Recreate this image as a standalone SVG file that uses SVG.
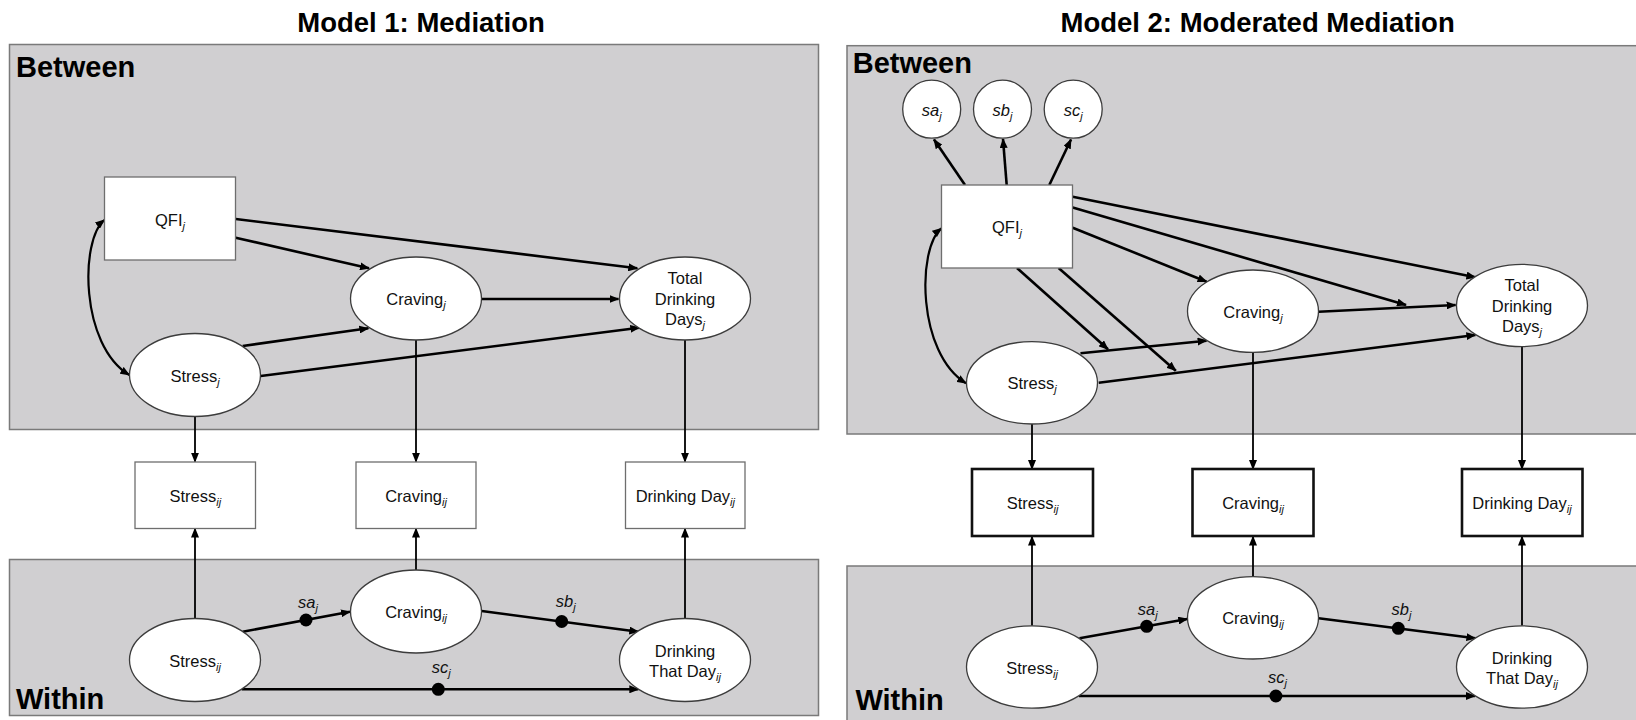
<svg xmlns="http://www.w3.org/2000/svg" width="1636" height="720" viewBox="0 0 1636 720">
<style>
.panel{fill:#d0cfd1;stroke:#7a7a7a;stroke-width:1.5}
.box{fill:#fff;stroke:#6e6e6e;stroke-width:1.3}
.box2{fill:#fff;stroke:#111;stroke-width:2.6}
.ell{fill:#fff;stroke:#3c3c3c;stroke-width:1.3}
.t{font-family:"Liberation Sans",Arial,sans-serif;font-size:16.5px;fill:#111;text-anchor:middle}
.sub{font-size:11px;font-style:italic}
.it{font-style:italic}
.lab{font-family:"Liberation Sans",Arial,sans-serif;font-size:16.5px;fill:#111;font-style:italic}
.hdr{font-family:"Liberation Sans",Arial,sans-serif;font-weight:bold;font-size:29px;fill:#000}
.title{font-family:"Liberation Sans",Arial,sans-serif;font-weight:bold;font-size:27.5px;fill:#000;text-anchor:middle}
.a{stroke:#000;stroke-width:2.6;fill:none;marker-end:url(#ah)}
.v{stroke:#000;stroke-width:1.8;fill:none;marker-end:url(#ah)}
.d{stroke:#000;stroke-width:2.2;fill:none;marker-start:url(#ah);marker-end:url(#ah)}
.dot{fill:#000}
</style>
<defs>
<marker id="ah" markerUnits="userSpaceOnUse" markerWidth="10" markerHeight="8" refX="9" refY="4" orient="auto-start-reverse">
<path d="M0,0 L10,4 L0,8 z" fill="#000"/>
</marker>
</defs>

<text class="title" x="421" y="31.7">Model 1: Mediation</text>
<text class="title" x="1257.6" y="31.7">Model 2: Moderated Mediation</text>

<!-- Model 1 panels -->
<g id="m1-between">
<rect class="panel" x="9.5" y="44.5" width="809" height="385"/>
<text class="hdr" x="16" y="77">Between</text>
</g>
<g id="m1-within">
<rect class="panel" x="9.5" y="559.5" width="809" height="156"/>
<text class="hdr" x="16" y="709">Within</text>
</g>

<!-- Model 2 panels -->
<g id="m2-between">
<rect class="panel" x="847" y="45.7" width="800" height="388.3"/>
<text class="hdr" x="852.7" y="73.3">Between</text>
</g>
<g id="m2-within">
<rect class="panel" x="847" y="566" width="800" height="170"/>
<text class="hdr" x="855.4" y="710">Within</text>
</g>

<g id="connectors">
<!-- Model 1 -->
<line class="a" x1="235.7" y1="219" x2="637.3" y2="268.3"/>
<line class="a" x1="235.7" y1="237.7" x2="369" y2="268.3"/>
<line class="a" x1="481.7" y1="299" x2="618.5" y2="299"/>
<line class="a" x1="242.7" y1="346" x2="368.3" y2="328.3"/>
<line class="a" x1="260.7" y1="376" x2="639.3" y2="327.7"/>
<path class="d" d="M104.3,220 C80,240 80,345 129.3,375"/>
<line class="v" x1="195" y1="416.5" x2="195" y2="461.7"/>
<line class="v" x1="416" y1="340" x2="416" y2="461.7"/>
<line class="v" x1="685" y1="340" x2="685" y2="461.7"/>
<line class="v" x1="195" y1="618.3" x2="195" y2="528.5"/>
<line class="v" x1="416" y1="570" x2="416" y2="528.5"/>
<line class="v" x1="685" y1="618.3" x2="685" y2="528.5"/>
<line class="a" x1="242.7" y1="631.7" x2="350" y2="611.7"/>
<line class="a" x1="481.7" y1="611" x2="638.3" y2="631.7"/>
<line class="a" x1="241.7" y1="689.3" x2="638.3" y2="689.3"/>
<circle class="dot" cx="306" cy="620" r="6.5"/>
<circle class="dot" cx="561.7" cy="621.5" r="6.5"/>
<circle class="dot" cx="438.3" cy="689.3" r="6.5"/>
<text class="lab" x="298" y="608.3">sa<tspan class="sub" dy="4">j</tspan></text>
<text class="lab" x="555.7" y="606.7">sb<tspan class="sub" dy="4">j</tspan></text>
<text class="lab" x="431.7" y="673.3">sc<tspan class="sub" dy="4">j</tspan></text>

<!-- Model 2 -->
<line class="a" x1="965" y1="185" x2="934" y2="139.5"/>
<line class="a" x1="1006.7" y1="185" x2="1003" y2="139"/>
<line class="a" x1="1049.3" y1="185" x2="1071" y2="139.5"/>
<line class="a" x1="1072.7" y1="196.7" x2="1475.4" y2="277.3"/>
<line class="a" x1="1072.7" y1="207.5" x2="1406" y2="305"/>
<line class="a" x1="1072.7" y1="227.7" x2="1206.6" y2="281.7"/>
<line class="a" x1="1318.6" y1="311.7" x2="1455.6" y2="305"/>
<line class="a" x1="1080.5" y1="353.3" x2="1206.6" y2="340.7"/>
<line class="a" x1="1098.7" y1="382.7" x2="1475.4" y2="335"/>
<line class="a" x1="1017" y1="268" x2="1108" y2="349.3"/>
<line class="a" x1="1058.6" y1="268" x2="1175.8" y2="370.7"/>
<path class="d" d="M941.4,228.3 C917,248 917,353 966,383.3"/>
<line class="v" x1="1032" y1="424" x2="1032" y2="469"/>
<line class="v" x1="1253" y1="352.4" x2="1253" y2="469"/>
<line class="v" x1="1522" y1="347" x2="1522" y2="469"/>
<line class="v" x1="1032" y1="625.7" x2="1032" y2="536.5"/>
<line class="v" x1="1253" y1="576.7" x2="1253" y2="536.5"/>
<line class="v" x1="1522" y1="625.7" x2="1522" y2="536.5"/>
<line class="a" x1="1079.5" y1="638.3" x2="1187.3" y2="619"/>
<line class="a" x1="1318.6" y1="618.3" x2="1475.4" y2="638.3"/>
<line class="a" x1="1079" y1="696" x2="1474.9" y2="696"/>
<circle class="dot" cx="1146.7" cy="626.3" r="6.5"/>
<circle class="dot" cx="1398.3" cy="628.3" r="6.5"/>
<circle class="dot" cx="1275.9" cy="696" r="6.5"/>
<text class="lab" x="1137.8" y="615">sa<tspan class="sub" dy="4">j</tspan></text>
<text class="lab" x="1391.5" y="615">sb<tspan class="sub" dy="4">j</tspan></text>
<text class="lab" x="1268" y="683.3">sc<tspan class="sub" dy="4">j</tspan></text>
</g>

<!-- Model 1 nodes -->
<g id="m1-qfi">
<rect class="box" x="104.5" y="177" width="131" height="83"/>
<text class="t" x="170" y="225.5">QFI<tspan class="sub" dy="4">j</tspan></text>
</g>
<g id="m1-craving-j">
<ellipse class="ell" cx="416" cy="298.5" rx="65.5" ry="41.5"/>
<text class="t" x="416" y="305">Craving<tspan class="sub" dy="4">j</tspan></text>
</g>
<g id="m1-tdd">
<ellipse class="ell" cx="685" cy="298.5" rx="65.5" ry="41.5"/>
<text class="t" x="685" y="284">Total</text>
<text class="t" x="685" y="305">Drinking</text>
<text class="t" x="685" y="325">Days<tspan class="sub" dy="4">j</tspan></text>
</g>
<g id="m1-stress-j">
<ellipse class="ell" cx="195" cy="375" rx="65.5" ry="41.5"/>
<text class="t" x="195" y="381.5">Stress<tspan class="sub" dy="4">j</tspan></text>
</g>
<g id="m1-stress-ij-obs">
<rect class="box" x="135" y="462" width="120.5" height="66.5"/>
<text class="t" x="195.3" y="501.7">Stress<tspan class="sub" dy="4">ij</tspan></text>
</g>
<g id="m1-craving-ij-obs">
<rect class="box" x="356" y="462" width="120" height="66.5"/>
<text class="t" x="416" y="501.7">Craving<tspan class="sub" dy="4">ij</tspan></text>
</g>
<g id="m1-drinkday-obs">
<rect class="box" x="625.5" y="462" width="119.5" height="66.5"/>
<text class="t" x="685.3" y="501.7">Drinking Day<tspan class="sub" dy="4">ij</tspan></text>
</g>
<g id="m1-craving-ij">
<ellipse class="ell" cx="416" cy="611.5" rx="65.5" ry="41.5"/>
<text class="t" x="416" y="618">Craving<tspan class="sub" dy="4">ij</tspan></text>
</g>
<g id="m1-stress-ij">
<ellipse class="ell" cx="195" cy="660" rx="65.5" ry="41.5"/>
<text class="t" x="195" y="666.5">Stress<tspan class="sub" dy="4">ij</tspan></text>
</g>
<g id="m1-dtd">
<ellipse class="ell" cx="685" cy="660" rx="65.5" ry="41.5"/>
<text class="t" x="685" y="656.7">Drinking</text>
<text class="t" x="685" y="676.7">That Day<tspan class="sub" dy="4">ij</tspan></text>
</g>

<!-- Model 2 nodes -->
<g id="m2-sa">
<circle class="ell" cx="931.7" cy="109.2" r="29"/>
<text class="t it" x="931.7" y="115.5">sa<tspan class="sub" dy="4">j</tspan></text>
</g>
<g id="m2-sb">
<circle class="ell" cx="1002.5" cy="109.2" r="29"/>
<text class="t it" x="1002.5" y="115.5">sb<tspan class="sub" dy="4">j</tspan></text>
</g>
<g id="m2-sc">
<circle class="ell" cx="1073.2" cy="109.2" r="29"/>
<text class="t it" x="1073.2" y="115.5">sc<tspan class="sub" dy="4">j</tspan></text>
</g>
<g id="m2-qfi">
<rect class="box" x="941.5" y="185" width="131" height="83"/>
<text class="t" x="1007" y="232.5">QFI<tspan class="sub" dy="4">j</tspan></text>
</g>
<g id="m2-craving-j">
<ellipse class="ell" cx="1253" cy="311.2" rx="65.5" ry="41.2"/>
<text class="t" x="1253" y="317.5">Craving<tspan class="sub" dy="4">j</tspan></text>
</g>
<g id="m2-tdd">
<ellipse class="ell" cx="1522" cy="305.5" rx="65.5" ry="41.2"/>
<text class="t" x="1522" y="291">Total</text>
<text class="t" x="1522" y="312">Drinking</text>
<text class="t" x="1522" y="332">Days<tspan class="sub" dy="4">j</tspan></text>
</g>
<g id="m2-stress-j">
<ellipse class="ell" cx="1032" cy="382.8" rx="65.5" ry="41.2"/>
<text class="t" x="1032" y="389">Stress<tspan class="sub" dy="4">j</tspan></text>
</g>
<g id="m2-stress-ij-obs">
<rect class="box2" x="972" y="469" width="121" height="67"/>
<text class="t" x="1032.5" y="508.5">Stress<tspan class="sub" dy="4">ij</tspan></text>
</g>
<g id="m2-craving-ij-obs">
<rect class="box2" x="1192.5" y="469" width="121" height="67"/>
<text class="t" x="1253" y="508.5">Craving<tspan class="sub" dy="4">ij</tspan></text>
</g>
<g id="m2-drinkday-obs">
<rect class="box2" x="1462" y="469" width="120.5" height="67"/>
<text class="t" x="1522" y="508.5">Drinking Day<tspan class="sub" dy="4">ij</tspan></text>
</g>
<g id="m2-craving-ij">
<ellipse class="ell" cx="1253" cy="617.8" rx="65.5" ry="41.2"/>
<text class="t" x="1253" y="624.3">Craving<tspan class="sub" dy="4">ij</tspan></text>
</g>
<g id="m2-stress-ij">
<ellipse class="ell" cx="1032" cy="667" rx="65.5" ry="41.2"/>
<text class="t" x="1032" y="673.5">Stress<tspan class="sub" dy="4">ij</tspan></text>
</g>
<g id="m2-dtd">
<ellipse class="ell" cx="1522" cy="667" rx="65.5" ry="41.2"/>
<text class="t" x="1522" y="663.7">Drinking</text>
<text class="t" x="1522" y="683.7">That Day<tspan class="sub" dy="4">ij</tspan></text>
</g>
</svg>
